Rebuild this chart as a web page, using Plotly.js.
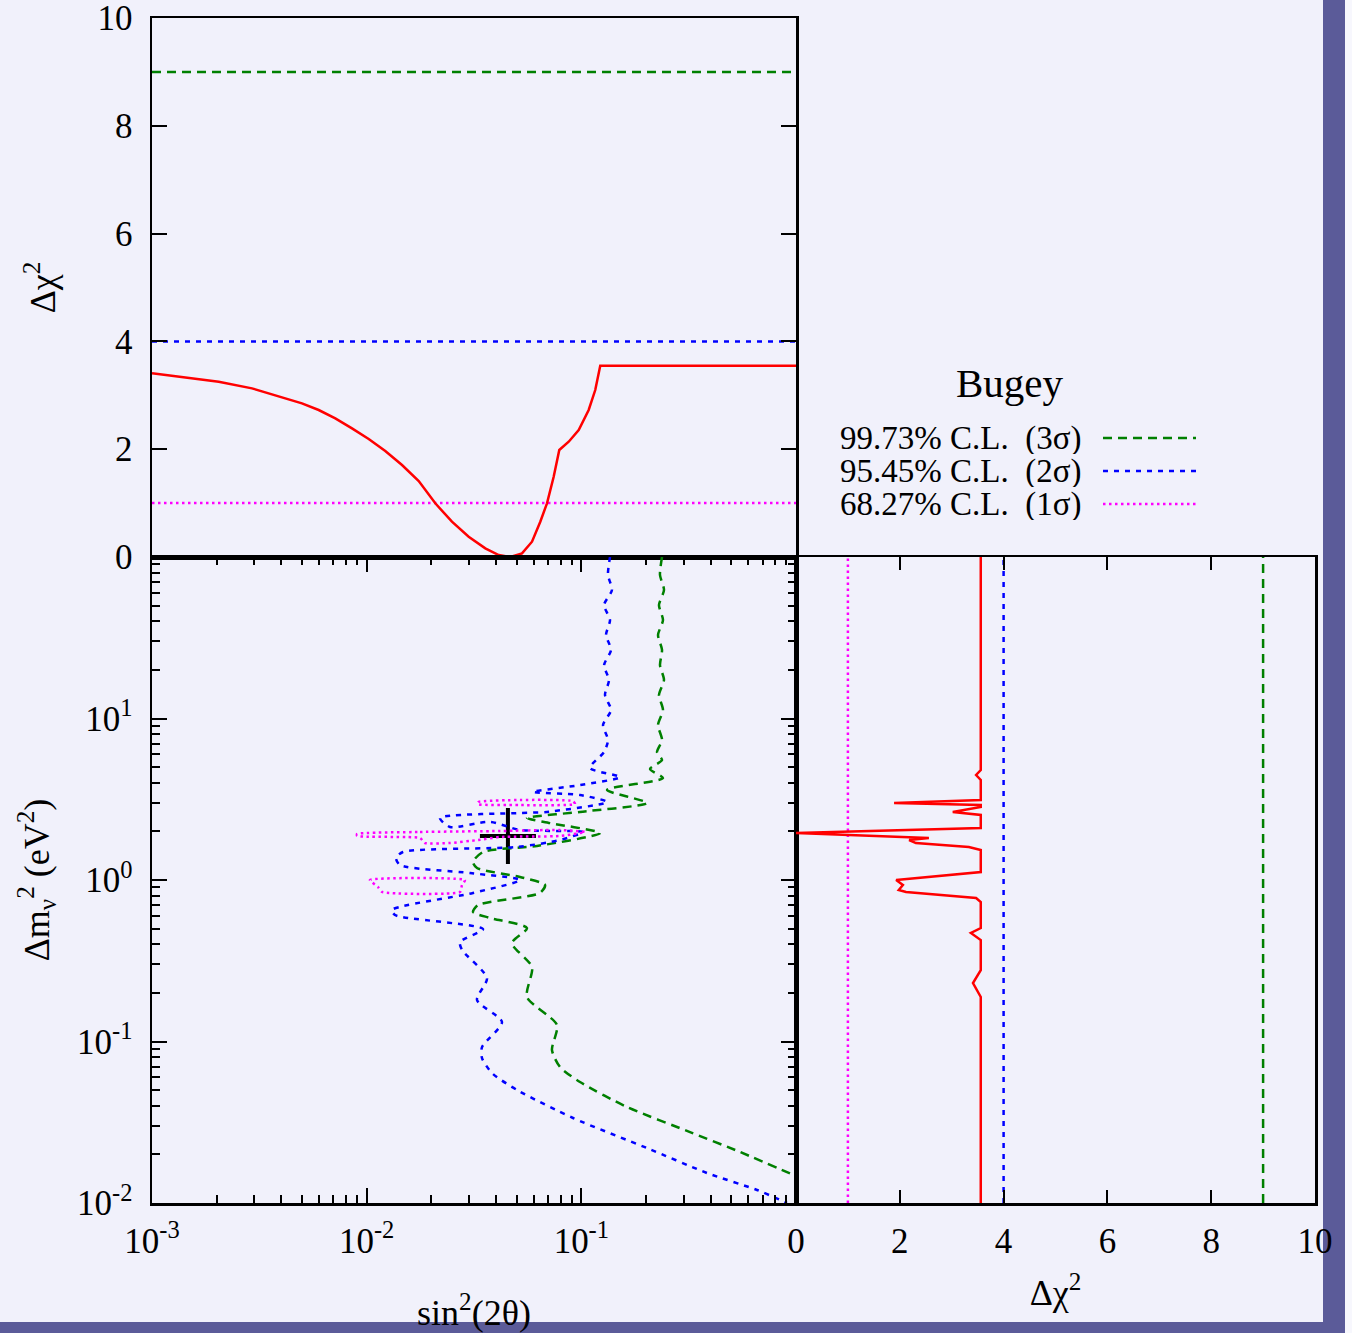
<!DOCTYPE html>
<html>
<head>
<meta charset="utf-8">
<script src="https://cdn.plot.ly/plotly-3.0.1.min.js"></script>
<style>
html,body{margin:0;padding:0;background:#f1f1fb;overflow:hidden;}
#chart{width:1352px;height:1333px;}
</style>
</head>
<body>
<div id="chart"></div>
<script>
// ---------------- DATA ----------------
// Top panel: Δχ² profile vs sin²(2θ)
const profSin = [0.001, 0.001429, 0.002045, 0.002922, 0.004178, 0.004995, 0.005977, 0.007143, 0.008544, 0.01022, 0.01221, 0.01461, 0.01748, 0.02088, 0.02496, 0.02987, 0.0357, 0.04122, 0.04669, 0.05292, 0.05891, 0.06439, 0.06918, 0.07433, 0.07894, 0.08733, 0.09721, 0.1082, 0.1161, 0.1225, 1.0];
const profChi = [3.408, 3.334, 3.252, 3.129, 2.944, 2.851, 2.727, 2.573, 2.387, 2.189, 1.967, 1.707, 1.410, 0.996, 0.655, 0.377, 0.161, 0.037, 0.0, 0.068, 0.284, 0.655, 0.996, 1.490, 1.985, 2.139, 2.356, 2.727, 3.098, 3.549, 3.549];

// Right panel: Δχ² profile vs Δm²
const dmChi = [3.56, 3.56, 3.47, 3.56, 3.56, 1.89, 3.56, 3.56, 3.02, 3.56, 3.56, 0.0, 2.56, 2.18, 2.31, 3.33, 3.56, 3.56, 1.93, 2.06, 1.98, 2.12, 3.47, 3.56, 3.56, 3.37, 3.56, 3.56, 3.41, 3.56, 3.56];
const dmVal = [100, 4.80, 4.47, 4.16, 3.13, 3.00, 2.91, 2.83, 2.64, 2.53, 2.10, 1.954, 1.82, 1.769, 1.694, 1.601, 1.534, 1.121, 1.0, 0.931, 0.867, 0.843, 0.774, 0.731, 0.504, 0.470, 0.425, 0.277, 0.230, 0.1886, 0.01];

// Confidence levels
const clLevels = [9, 4, 1];
const clNames = ['99.73% C.L.  (3σ)', '95.45% C.L.  (2σ)', '68.27% C.L.  (1σ)'];

// 99.73% C.L. contour (3σ)
const cl3Sin = [0.2376, 0.2325, 0.2427, 0.2300, 0.2401, 0.2276, 0.2376, 0.2325, 0.2427, 0.2300, 0.2401, 0.2276, 0.2376, 0.2252, 0.2376, 0.2089, 0.2401, 0.1317, 0.2022, 0.09858, 0.05583, 0.07145, 0.1221, 0.06215, 0.03483, 0.03128, 0.03266, 0.0518, 0.06772, 0.06418, 0.03301, 0.03128, 0.03754, 0.05583, 0.04753, 0.05891, 0.05583, 0.077, 0.07298, 0.07955, 0.09858, 0.1632, 0.3209, 0.5483, 1.0];
const cl3Dm  = [100, 77.4, 62.5, 50.4, 40.7, 32.9, 26.6, 21.4, 17.3, 13.98, 11.29, 9.12, 7.36, 6.20, 5.53, 4.87, 4.28, 3.61, 3.00, 2.64, 2.42, 2.25, 1.954, 1.624, 1.491, 1.292, 1.187, 1.044, 0.931, 0.831, 0.700, 0.634, 0.582, 0.504, 0.407, 0.289, 0.1886, 0.1265, 0.0886, 0.0695, 0.0561, 0.0393, 0.0275, 0.0207, 0.01469];

// 95.45% C.L. contour (2σ)
const cl2Sin = [0.136, 0.1331, 0.1389, 0.1276, 0.136, 0.1303, 0.1375, 0.1276, 0.1345, 0.1289, 0.1375, 0.1262, 0.1331, 0.1276, 0.1097, 0.1514, 0.09858, 0.05953, 0.09858, 0.1317, 0.06918, 0.0518, 0.02196, 0.02444, 0.03754, 0.0518, 0.1018, 0.07955, 0.05015, 0.01476, 0.01369, 0.0143, 0.0303, 0.0518, 0.03128, 0.01312, 0.01355, 0.03483, 0.02721, 0.0278, 0.03636, 0.03266, 0.0427, 0.03446, 0.03446, 0.03835, 0.05015, 0.09146, 0.2022, 0.3849, 0.6582, 0.9078];
const cl2Dm  = [100, 77.4, 62.5, 50.4, 40.7, 32.9, 26.6, 21.4, 17.3, 13.98, 11.29, 9.12, 7.36, 6.20, 4.94, 4.34, 3.87, 3.51, 3.36, 3.04, 2.64, 2.60, 2.42, 2.13, 2.29, 2.04, 1.983, 1.769, 1.601, 1.491, 1.368, 1.238, 1.105, 1.0, 0.831, 0.652, 0.607, 0.497, 0.413, 0.369, 0.247, 0.1807, 0.132, 0.0924, 0.079, 0.0638, 0.0501, 0.0336, 0.0219, 0.01534, 0.01204, 0.0100];

// 68.27% C.L. contour (1σ): three closed islands separated by null
const cl1Sin = [0.03301, 0.0518, 0.09146, 0.09344, 0.0518, 0.03301, 0.03301, null,
                0.00902, 0.01772, 0.0418, 0.07955, 0.104, 0.07955, 0.0418, 0.03301, 0.02444, 0.01869, 0.01772, 0.00902, 0.00902, null,
                0.01036, 0.02871, 0.0278, 0.02721, 0.01179, 0.01129, 0.01036];
const cl1Dm  = [3.04, 3.13, 3.08, 2.95, 2.91, 2.95, 3.04, null,
                1.927, 1.983, 2.011, 2.04, 1.983, 1.873, 1.846, 1.769, 1.694, 1.694, 1.82, 1.873, 1.927, null,
                1.0, 1.0, 0.931, 0.843, 0.843, 0.905, 1.0];

// Best fit point
const bestSin = [0.0455];
const bestDm = [1.873];

// ---------------- STYLE ----------------
const W = 1352, H = 1333;
const px = v => v / W;
const py = v => (H - v) / H;
const BG = '#f1f1fb';
const PURPLE = '#5b5b99';
const FONT = '"Liberation Serif", "DejaVu Serif", serif';
const clColors = ['#008000', '#0000ff', '#ff00ff'];
const clDash = ['9px,6px', '5px,6px', '2.5px,3.5px'];

const X1 = [px(152), px(796)];
const X3 = [px(796), px(1315)];
const YTOP = [py(557), py(18)];
const YBOT = [py(1203), py(557)];

function minorLog(lo, hi) {
  const a = [];
  for (let e = lo; e < hi; e++) for (let m = 2; m <= 9; m++) a.push(m * Math.pow(10, e));
  return a;
}
const tickFont = {family: FONT, size: 35, color: 'black'};
const titleFont = {family: FONT, size: 36, color: 'black'};
const base = {
  showline: true, linecolor: 'black', linewidth: 2.5, mirror: 'ticks',
  showgrid: false, zeroline: false, ticks: 'inside', tickcolor: 'black',
  tickwidth: 2, ticklen: 15, tickfont: tickFont, ticklabelstandoff: 10,
  ticklabeloverflow: 'allow'
};
const minorStyle = vals => ({tickmode: 'array', tickvals: vals, ticks: 'inside', ticklen: 8, tickwidth: 2, tickcolor: 'black', showgrid: false});

// ---------------- TRACES ----------------
const traces = [];
clLevels.forEach((lv, i) => {
  traces.push({x: [0.001, 1], y: [lv, lv], xaxis: 'x', yaxis: 'y', mode: 'lines',
    line: {color: clColors[i], width: 2.5, dash: clDash[i]}, showlegend: false, hoverinfo: 'skip'});
});
traces.push({x: profSin, y: profChi, xaxis: 'x', yaxis: 'y', mode: 'lines',
  line: {color: '#ff0000', width: 2.5}, showlegend: false});

traces.push({x: bestSin, y: bestDm, xaxis: 'x2', yaxis: 'y2', mode: 'markers',
  marker: {symbol: 'cross-thin', size: 40, line: {color: 'black', width: 4}}, showlegend: false});
[[cl3Sin, cl3Dm], [cl2Sin, cl2Dm], [cl1Sin, cl1Dm]].forEach((c, i) => {
  traces.push({x: c[0], y: c[1], xaxis: 'x2', yaxis: 'y2', mode: 'lines', connectgaps: false,
    name: clNames[i], line: {color: clColors[i], width: 2.5, dash: clDash[i], shape: 'spline', smoothing: i === 2 ? 0.5 : 0.7},
    showlegend: false});
});

clLevels.forEach((lv, i) => {
  traces.push({x: [lv, lv], y: [0.01, 100], xaxis: 'x3', yaxis: 'y3', mode: 'lines',
    line: {color: clColors[i], width: 2.5, dash: clDash[i]}, showlegend: false, hoverinfo: 'skip'});
});
traces.push({x: dmChi, y: dmVal, xaxis: 'x3', yaxis: 'y3', mode: 'lines',
  line: {color: '#ff0000', width: 2.5}, showlegend: false});

// ---------------- LAYOUT ----------------
const legY = [438, 471, 504];
const annotations = [
  {text: 'Bugey', x: px(1010), y: py(383), xref: 'paper', yref: 'paper', showarrow: false,
   xanchor: 'center', yanchor: 'middle', font: {family: FONT, size: 41, color: 'black'}}
];
const shapes = [
  {type: 'rect', xref: 'paper', yref: 'paper', x0: px(1323), x1: px(1345), y0: 0, y1: 1, fillcolor: PURPLE, line: {width: 0}, layer: 'below'},
  {type: 'rect', xref: 'paper', yref: 'paper', x0: 0, x1: px(1345), y0: 0, y1: py(1322), fillcolor: PURPLE, line: {width: 0}, layer: 'below'},
  {type: 'rect', xref: 'paper', yref: 'paper', x0: px(1345), x1: 1, y0: 0, y1: 1, fillcolor: '#f7f7fd', line: {width: 0}, layer: 'below'}
];
clNames.forEach((n, i) => {
  annotations.push({text: n, x: px(1082), y: py(legY[i]), xref: 'paper', yref: 'paper', showarrow: false,
    xanchor: 'right', yanchor: 'middle', height: 32, borderpad: 0, font: {family: FONT, size: 33, color: 'black'}});
  shapes.push({type: 'line', xref: 'paper', yref: 'paper', x0: px(1103), x1: px(1196), y0: py(legY[i]), y1: py(legY[i]),
    line: {color: clColors[i], width: 2.5, dash: clDash[i]}});
});

const layout = {
  width: W, height: H,
  margin: {l: 0, r: 0, t: 0, b: 0},
  paper_bgcolor: BG, plot_bgcolor: BG,
  font: {family: FONT, color: 'black'},
  showlegend: false,
  xaxis: Object.assign({}, base, {type: 'log', range: [-3, 0], domain: X1, anchor: 'y',
    showticklabels: false, ticks: '', mirror: true}),
  yaxis: Object.assign({}, base, {range: [0, 10], domain: YTOP, anchor: 'x',
    tickvals: [0, 2, 4, 6, 8, 10],
    title: {text: 'Δχ<sup>2</sup>', font: titleFont, standoff: 31}}),
  xaxis2: Object.assign({}, base, {type: 'log', range: [-3, 0], domain: X1, anchor: 'y2',
    tickmode: 'array', tickvals: [0.001, 0.01, 0.1, 1], ticklabelstandoff: 5,
    ticktext: ['10<sup>-3</sup>', '10<sup>-2</sup>', '10<sup>-1</sup>', ''],
    minor: minorStyle(minorLog(-3, 0)),
    title: {text: 'sin<sup>2</sup>(2θ)', font: titleFont, standoff: 57}}),
  yaxis2: Object.assign({}, base, {type: 'log', range: [-2, 2], domain: YBOT, anchor: 'x2',
    tickmode: 'array', tickvals: [0.01, 0.1, 1, 10, 100],
    ticktext: ['10<sup>-2</sup>', '10<sup>-1</sup>', '10<sup>0</sup>', '10<sup>1</sup>', ''],
    minor: minorStyle(minorLog(-2, 2)),
    title: {text: 'Δm<sub>ν</sub><sup>2</sup> (eV<sup>2</sup>)', font: titleFont, standoff: 17}}),
  xaxis3: Object.assign({}, base, {range: [0, 10], domain: X3, anchor: 'y3',
    tickvals: [0, 2, 4, 6, 8, 10], ticklen: 13, ticklabelstandoff: 5,
    title: {text: 'Δχ<sup>2</sup>', font: titleFont, standoff: 21}}),
  yaxis3: Object.assign({}, base, {type: 'log', range: [-2, 2], domain: YBOT, anchor: 'x3',
    showticklabels: false, ticks: '', mirror: true}),
  annotations: annotations,
  shapes: shapes
};

Plotly.newPlot('chart', traces, layout, {staticPlot: true, displayModeBar: false});
</script>
</body>
</html>
